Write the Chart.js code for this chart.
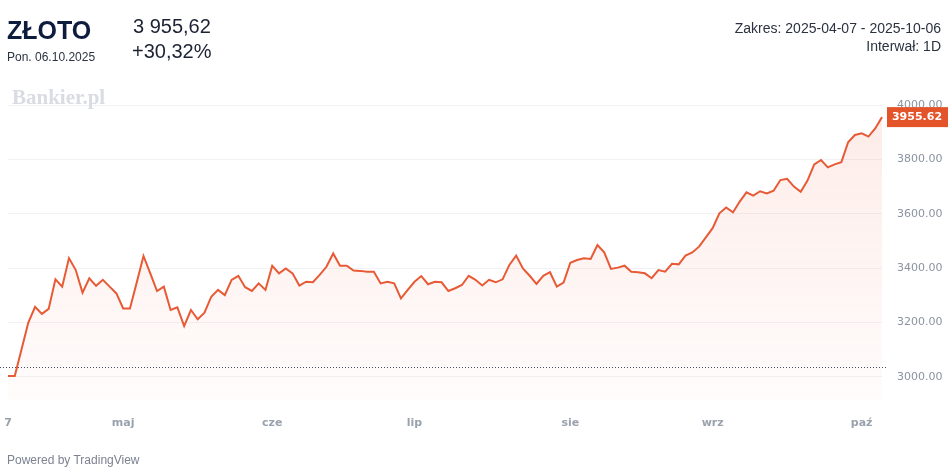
<!DOCTYPE html>
<html>
<head>
<meta charset="utf-8">
<script src="https://cdn.jsdelivr.net/npm/chart.js@4"></script>
<style>
  html,body{margin:0;padding:0;background:#fff;}
  body{width:948px;height:468px;position:relative;overflow:hidden;font-family:"Liberation Sans",Arial,sans-serif;}
  #wrap{position:absolute;left:0;top:0;width:948px;height:468px;}
  .t{position:absolute;white-space:nowrap;}
</style>
</head>
<body>
<div id="wrap"><canvas id="wykres"></canvas></div>
<div class="t" style="left:7px;top:16px;font-size:25px;font-weight:bold;color:#0e1c3d;">ZŁOTO</div>
<div class="t" style="left:7px;top:50px;font-size:12px;color:#2b3340;">Pon. 06.10.2025</div>
<div class="t" style="left:133px;top:15px;font-size:20px;color:#1c2233;">3 955,62</div>
<div class="t" style="left:132px;top:40px;font-size:20px;color:#1c2233;">+30,32%</div>
<div class="t" style="right:7px;top:20px;font-size:14px;color:#2b3340;text-align:right;">Zakres: 2025-04-07 - 2025-10-06</div>
<div class="t" style="right:7px;top:38px;font-size:14px;color:#2b3340;text-align:right;">Interwał: 1D</div>
<div class="t" style="left:12px;top:85px;font-size:21px;font-weight:bold;color:#d9dce2;font-family:'Liberation Serif',serif;">Bankier.pl</div>
<div class="t" style="left:7px;top:453px;font-size:12px;color:#7b8391;">Powered by TradingView</div>
<script>
// notowania dzienne 2025-04-07 .. 2025-10-06 (odczyt z wykresu)
const kursy=[3003,3003,3102,3200,3258,3232,3250,3359,3332,3437,
  3393,3310,3363,3335,3357,3332,3307,3252,3252,3347,
  3445,3381,3316,3332,3246,3256,3187,3246,3212,3236,
  3295,3320,3301,3357,3372,3330,3316,3344,3320,3409,
  3381,3399,3381,3336,3350,3348,3375,3405,3454,3409,
  3409,3391,3390,3387,3387,3344,3350,3344,3289,3320,
  3350,3371,3341,3350,3348,3316,3326,3338,3372,3357,
  3336,3357,3348,3359,3412,3446,3399,3372,3342,3372,
  3385,3332,3347,3420,3430,3436,3434,3485,3458,3397,
  3402,3409,3387,3385,3381,3363,3393,3387,3416,3414,
  3446,3458,3479,3513,3547,3602,3623,3605,3645,3679,
  3667,3683,3675,3685,3724,3729,3700,3681,3722,3782,
  3798,3771,3782,3790,3863,3890,3896,3884,3914,3955.62];
const etykietyMiesiecy=["7","maj","cze","lip","sie","wrz","paź"];
const pozycjeMiesiecy=[0,17,39,60,83,104,126];
const tickiY=[3000,3200,3400,3600,3800,4000];
const kursOdniesienia=3035.3; // 3955.62 / 1.3032

const etykiety=kursy.map((k,i)=>{
  const j=pozycjeMiesiecy.indexOf(i);
  return j>=0?etykietyMiesiecy[j]:"";
});

const dodatki={
  id:"dodatki",
  afterDatasetsDraw(chart){
    const {ctx,chartArea,scales}=chart;
    const y=scales.y;
    // linia odniesienia (kropkowana)
    const yo=Math.round(y.getPixelForValue(kursOdniesienia))+0.5;
    ctx.save();
    ctx.strokeStyle="#4a5163";
    ctx.lineWidth=1;
    ctx.setLineDash([1,2]);
    ctx.beginPath();
    ctx.moveTo(0,yo);ctx.lineTo(chartArea.right+4,yo);
    ctx.stroke();
    ctx.setLineDash([]);
    // etykieta ostatniej wartosci
    const ost=kursy[kursy.length-1];
    const yl=y.getPixelForValue(ost);
    ctx.fillStyle="#e4542a";
    ctx.fillRect(887,yl-10,61,20);
    ctx.fillStyle="#fff";
    ctx.font="bold 11px 'DejaVu Sans'";
    ctx.textAlign="center";
    ctx.textBaseline="middle";
    ctx.fillText(ost.toFixed(2),917,yl+0.5);
    ctx.restore();
  }
};

const ctx1=document.getElementById("wykres");
new Chart(ctx1,{
  type:"line",
  data:{
    labels:etykiety,
    datasets:[{
      data:kursy,
      borderColor:"#e85a35",
      borderWidth:2,
      pointRadius:0,
      tension:0,
      fill:"start",
      backgroundColor:(c)=>{
        const ca=c.chart.chartArea;
        if(!ca) return "rgba(240,100,70,0.06)";
        const g=c.chart.ctx.createLinearGradient(0,ca.top,0,ca.bottom);
        g.addColorStop(0,"rgba(240,100,70,0.13)");
        g.addColorStop(1,"rgba(240,100,70,0.02)");
        return g;
      }
    }]
  },
  options:{
    responsive:true,
    maintainAspectRatio:false,
    animation:false,
    layout:{padding:{left:8,top:95,right:0,bottom:0}},
    plugins:{legend:{display:false},tooltip:{enabled:false}},
    scales:{
      x:{
        offset:false,
        grid:{display:false,drawTicks:false},
        border:{display:false},
        afterFit:(s)=>{s.height=68;s.paddingLeft=0;s.paddingRight=0;},
        ticks:{
          autoSkip:false,
          maxRotation:0,
          padding:17,
          color:"#9aa2ae",
          font:{family:"DejaVu Sans",size:11,weight:"bold"}
        }
      },
      y:{
        position:"right",
        min:2915,
        max:4037,
        afterFit:(s)=>{s.width=66;},
        afterBuildTicks:(s)=>{s.ticks=tickiY.map(v=>({value:v}));},
        grid:{color:"#f1f2f5",drawTicks:false},
        border:{display:false},
        ticks:{
          padding:15,
          color:"#8b93a1",
          font:{family:"DejaVu Sans",size:11},
          callback:(v)=>Number(v).toFixed(2)
        }
      }
    }
  },
  plugins:[dodatki]
});
</script>
</body>
</html>
